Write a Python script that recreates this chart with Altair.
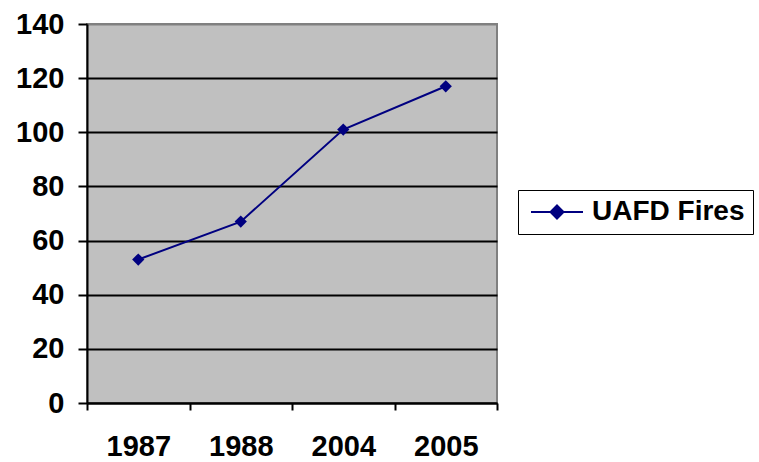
import altair as alt
import pandas as pd

years = ["1987", "1988", "2004", "2005"]
fires = [53, 67, 101, 117]
series = ["UAFD Fires"] * 4

df = pd.DataFrame({"year": years, "fires": fires, "series": series})

FONT = "Liberation Sans"
NAVY = "#000080"
FS = 29

x = alt.X(
    "year:N",
    sort=years,
    scale=alt.Scale(type="band", paddingInner=0, paddingOuter=0),
    axis=alt.Axis(
        title=None,
        labelAngle=0,
        labelFont=FONT,
        labelFontWeight=700,
        labelFontSize=FS,
        labelColor="black",
        labelPadding=22,
        tickBand="extent",
        tickSize=7,
        tickWidth=2,
        tickColor="black",
        domainColor="black",
        domainWidth=2,
        grid=False,
    ),
)
y = alt.Y(
    "fires:Q",
    scale=alt.Scale(domain=[0, 140], nice=False),
    axis=alt.Axis(
        title=None,
        values=[0, 20, 40, 60, 80, 100, 120, 140],
        labelFont=FONT,
        labelFontWeight=700,
        labelFontSize=FS,
        labelColor="black",
        labelPadding=14,
        tickSize=9,
        tickWidth=2,
        tickColor="black",
        domainColor="black",
        domainWidth=2,
        grid=True,
        gridColor={"condition": {"test": "datum.value == 140", "value": "#808080"}, "value": "black"},
        gridWidth=2,
        gridOpacity=1,
    ),
)
color = alt.Color(
    "series:N",
    scale=alt.Scale(range=[NAVY]),
    legend=alt.Legend(
        title=None,
        orient="none",
        legendX=431,
        legendY=166,
        labelFont=FONT,
        labelFontWeight=700,
        labelFontSize=28,
        labelColor="black",
        symbolType="M-2,0H2M0,-0.5L0.5,0L0,0.5L-0.5,0Z",
        symbolSize=676,
        symbolStrokeWidth=2,
        symbolFillColor=NAVY,
        symbolStrokeColor=NAVY,
        symbolOffset=17,
        strokeColor="black",
        padding=8,
        labelOffset=21,
        cornerRadius=0,
    ),
)

line = alt.Chart(df).mark_line(strokeWidth=2).encode(x=x, y=y, color=color)
pts = alt.Chart(df).mark_point(shape="diamond", filled=True, size=150, opacity=1).encode(
    x=x, y=y, color=alt.Color("series:N", scale=alt.Scale(range=[NAVY]), legend=None)
)

chart = (
    alt.layer(line, pts)
    .properties(
        width=410,
        height=379,
        autosize=alt.AutoSizeParams(type="none"),
        padding={"left": 87, "top": 24, "right": 262, "bottom": 59},
        background="white",
    )
    .configure_view(fill="#C0C0C0", stroke="#808080", strokeWidth=2)
)

chart.save("out.html", embed_options={"renderer": "svg", "actions": False})
